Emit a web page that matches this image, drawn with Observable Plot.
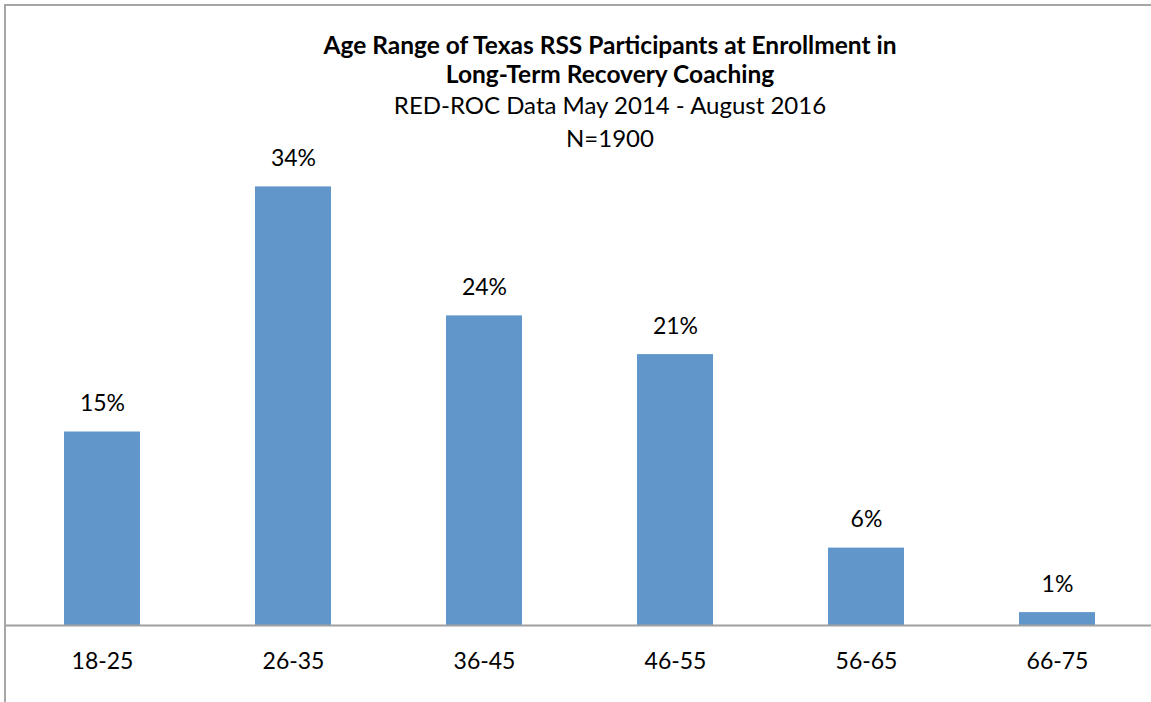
<!DOCTYPE html>
<html>
<head>
<meta charset="utf-8">
<script src="https://cdn.jsdelivr.net/npm/d3@7"></script>
<script src="https://cdn.jsdelivr.net/npm/@observablehq/plot@0.6"></script>
<style>
  html, body { margin: 0; padding: 0; background: #fff; overflow: hidden; }
  #wrap { position: relative; width: 1151px; height: 702px; font-family: Lato, "Open Sans", sans-serif; }
  #frame { position: absolute; left: 4px; top: 4px; width: 1300px; height: 900px; border: 2px solid #a6a6a6; pointer-events: none; }
  #titles { position: absolute; left: 260px; width: 700px; top: 30px; text-align: center; color: #000; }
  #titles .t { font-weight: bold; font-size: 24.5px; line-height: 29px; }
  #titles .s { font-size: 24px; line-height: 33px; }
</style>
</head>
<body>
<div id="wrap">
  <div id="chart"></div>
  <div id="titles">
    <div class="t">Age Range of Texas RSS Participants at Enrollment in</div>
    <div class="t">Long-Term Recovery Coaching</div>
    <div class="s">RED-ROC Data May 2014 - August 2016</div>
    <div class="s">N=1900</div>
  </div>
  <div id="frame"></div>
</div>
<script>
const ageRanges = ["18-25", "26-35", "36-45", "46-55", "56-65", "66-75"];
const percents = [15, 34, 24, 21, 6, 1];

const data = ageRanges.map((a, i) => ({age: a, pct: percents[i]}));

const chart = Plot.plot({
  width: 1151,
  height: 702,
  marginTop: 109,
  marginBottom: 77,
  marginLeft: 5,
  marginRight: 0,
  style: {fontFamily: "Lato, 'Open Sans', sans-serif", background: "#fff"},
  x: {domain: ageRanges, range: [5, 1155], paddingInner: 0.6, paddingOuter: 0.3, label: null},
  y: {domain: [0, 40], axis: null},
  marks: [
    Plot.barY(data, {x: "age", y: "pct", fill: "#6096CA"}),
    Plot.ruleY([0], {stroke: "#a0a0a0", strokeWidth: 2}),
    Plot.text(data, {x: "age", y: "pct", text: d => d.pct + "%", dy: -28, fontSize: 23, fill: "#000"}),
    Plot.axisX({tickSize: 0, tickPadding: 27, fontSize: 23, fill: "#000", label: null})
  ]
});
document.getElementById("chart").appendChild(chart);
</script>
</body>
</html>
